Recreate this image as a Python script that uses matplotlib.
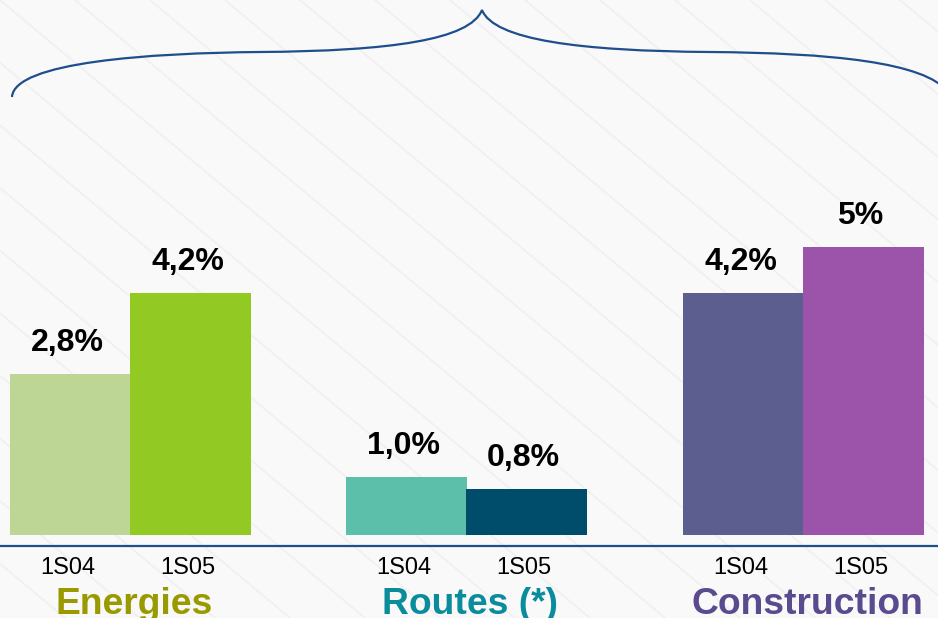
import numpy as np
import matplotlib
matplotlib.use('Agg')
import matplotlib.pyplot as plt
from matplotlib.path import Path
from matplotlib.patches import PathPatch

plt.rcParams['font.family'] = ['Liberation Sans', 'DejaVu Sans']

# data
groups = ['Energies', 'Routes (*)', 'Construction']
periods = ['1S04', '1S05']
values = [[2.8, 4.2], [1.0, 0.8], [4.2, 5.0]]
value_labels = [['2,8%', '4,2%'], ['1,0%', '0,8%'], ['4,2%', '5%']]

bar_colors = [['#BDD695', '#92C923'], ['#5BBFAA', '#004D6B'], ['#5B5E8E', '#9B54AA']]
group_colors = ['#999900', '#0A8C9C', '#5A4A8E']
left_edges = [10, 346, 683]   # pixel positions of first bar in each group
bar_w = 121

fig = plt.figure(figsize=(9.38, 6.18), dpi=100)
fig.patch.set_facecolor('#F9F9F9')

# main axes covering the whole figure, 57.6 px per percent, baseline at 535 px
ax = fig.add_axes([0, 0, 1, 1])
ax.set_facecolor('none')
px = 57.6
ax.set_xlim(0, 938)
ax.set_ylim(-83 / px, 535 / px)
ax.axis('off')

for gi, g in enumerate(groups):
    xs = [left_edges[gi] + bar_w / 2, left_edges[gi] + bar_w * 1.5 - 1]
    ax.bar(xs, values[gi], width=bar_w, color=bar_colors[gi], zorder=3)
    for x, v, lab, per in zip(xs, values[gi], value_labels[gi], periods):
        ax.text(x - 3, v + 31 / px, lab, ha='center', va='center',
                fontsize=23, fontweight='bold', color='black', zorder=4)
        ax.text(x - 3, -33 / px, per, ha='center', va='center',
                fontsize=17, color='black')
    ax.text(np.mean(xs) + 4, -69 / px, g, ha='center', va='center',
            fontsize=26.8, fontweight='bold', color=group_colors[gi])

# baseline rule
ax.plot([0, 938], [-11 / px, -11 / px], color='#1F4E8C', lw=1.6, zorder=5)

# overlay in pixel coordinates for the background texture
ov = fig.add_axes([0, 0, 1, 1], zorder=-1)
ov.set_xlim(0, 938)
ov.set_ylim(618, 0)
ov.axis('off')

for k in range(-10, 14):
    x0 = k * 75
    ov.plot([x0, x0 + 740], [0, 618], color='#F0F0F0', lw=1.2)

brace_ax = fig.add_axes([0, 0, 1, 1])
brace_ax.set_xlim(0, 938)
brace_ax.set_ylim(618, 0)
brace_ax.axis('off')
verts = [(12, 97), (14, 62), (150, 53), (260, 52),
         (390, 51), (470, 40), (482, 10),
         (494, 40), (580, 51), (710, 52),
         (830, 53), (925, 62), (948, 92)]
codes = [Path.MOVETO] + [Path.CURVE4] * 12
brace_ax.add_patch(PathPatch(Path(verts, codes), fill=False,
                             edgecolor='#1F4E8C', lw=1.6))

fig.savefig('out.png', dpi=100, facecolor=fig.get_facecolor())
